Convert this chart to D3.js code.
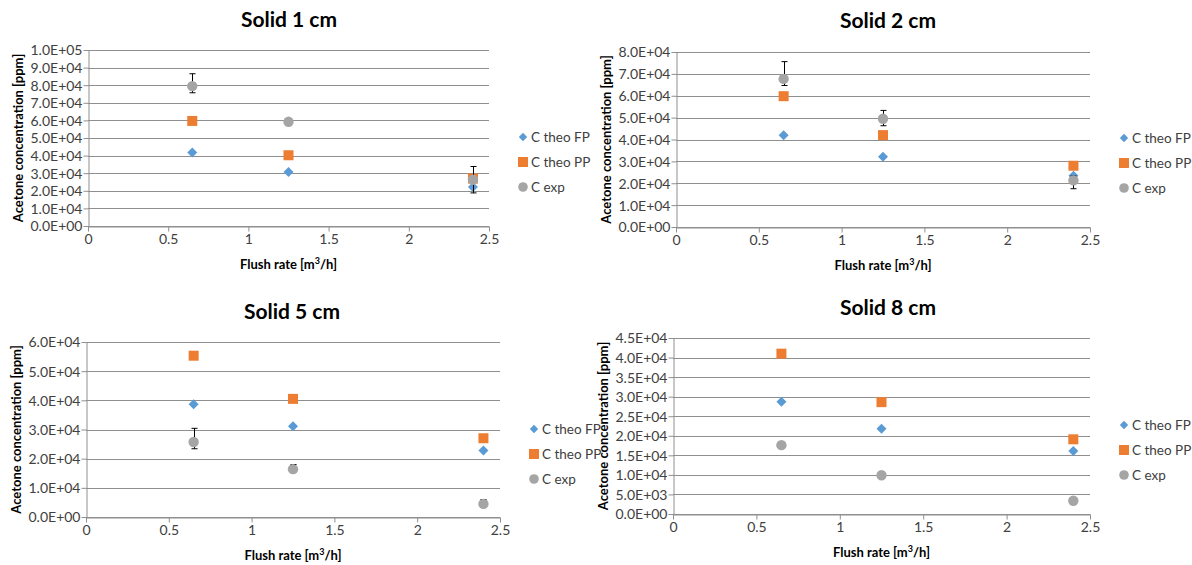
<!DOCTYPE html>
<html>
<head>
<meta charset="utf-8">
<script src="https://cdn.jsdelivr.net/npm/d3@7"></script>
<style>
  html, body { margin: 0; padding: 0; background: #ffffff; }
  svg { display: block; font-family: Lato, "Open Sans", "Noto Sans", sans-serif; }
</style>
</head>
<body>
<svg id="chart" width="1192" height="565"></svg>
<script>
// ---------------- DATA ----------------
const flushRates = [0.65, 1.25, 2.4];
const seriesNames = ["C theo FP", "C theo PP", "C exp"];
const xTickValues = [0, 0.5, 1, 1.5, 2, 2.5];
const panelTitles = ["Solid 1 cm", "Solid 2 cm", "Solid 5 cm", "Solid 8 cm"];
const yMaxes = [100000, 80000, 60000, 45000];
const ySteps = [10000, 10000, 10000, 5000];

const solid1_FP = [41800, 30700, 22200];
const solid1_PP = [59700, 40200, 27000];
const solid1_exp = [79500, 59200, 26300];
const solid1_errPlus = [7000, 0, 7500];
const solid1_errMinus = [3800, 0, 7500];

const solid2_FP = [42000, 32100, 23400];
const solid2_PP = [59800, 42000, 28000];
const solid2_exp = [67700, 49500, 21300];
const solid2_errPlus = [7900, 3800, 2000];
const solid2_errMinus = [3000, 3200, 3800];

const solid5_FP = [38700, 31100, 22800];
const solid5_PP = [55300, 40500, 27000];
const solid5_exp = [25700, 16400, 4500];
const solid5_errPlus = [4700, 1600, 1500];
const solid5_errMinus = [2300, 1000, 1000];

const solid8_FP = [28700, 21800, 16100];
const solid8_PP = [41000, 28600, 19100];
const solid8_exp = [17600, 9900, 3400];
const solid8_errPlus = [0, 0, 0];
const solid8_errMinus = [0, 0, 0];

// ---------------- LAYOUT ----------------
const layouts = [
  { left: 88,  right: 489,  top: 50,  bottom: 226, titleX: 289, titleY: 26.5, legX: 523,  legY: 137 },
  { left: 676, right: 1090, top: 52,  bottom: 227, titleX: 888, titleY: 27.5, legX: 1124, legY: 138 },
  { left: 86,  right: 500,  top: 342, bottom: 517, titleX: 292, titleY: 319,  legX: 534,  legY: 429 },
  { left: 673, right: 1090, top: 338, bottom: 514, titleX: 888, titleY: 315,  legX: 1124, legY: 425 }
];

const panelData = [
  { fp: solid1_FP, pp: solid1_PP, exp: solid1_exp, ep: solid1_errPlus, em: solid1_errMinus },
  { fp: solid2_FP, pp: solid2_PP, exp: solid2_exp, ep: solid2_errPlus, em: solid2_errMinus },
  { fp: solid5_FP, pp: solid5_PP, exp: solid5_exp, ep: solid5_errPlus, em: solid5_errMinus },
  { fp: solid8_FP, pp: solid8_PP, exp: solid8_exp, ep: solid8_errPlus, em: solid8_errMinus }
];

const COL_FP = "#5B9BD5", COL_PP = "#ED7D31", COL_EXP = "#A5A5A5";
const GRID = "#8f8f8f", TXT = "#404040";

function fmtE(v) {
  if (v === 0) return "0.0E+00";
  const s = v.toExponential(1).split("e");
  const exp = parseInt(s[1], 10);
  const sign = exp < 0 ? "-" : "+";
  return s[0] + "E" + sign + String(Math.abs(exp)).padStart(2, "0");
}

const svg = d3.select("#chart");

function diamondPath(r) {
  return `M0,${-r}L${r},0L0,${r}L${-r},0Z`;
}

layouts.forEach((L, i) => {
  const D = panelData[i];
  const g = svg.append("g");
  const x = d3.scaleLinear().domain([0, 2.5]).range([L.left, L.right]);
  const y = d3.scaleLinear().domain([0, yMaxes[i]]).range([L.bottom, L.top]);
  const yTicks = d3.range(0, yMaxes[i] + ySteps[i] / 2, ySteps[i]);

  // gridlines
  g.append("g").selectAll("line").data(yTicks).join("line")
    .attr("x1", L.left).attr("x2", L.right)
    .attr("y1", d => Math.round(y(d)) + 0.5).attr("y2", d => Math.round(y(d)) + 0.5)
    .attr("stroke", GRID).attr("stroke-width", 1);

  // y axis
  const yAxis = d3.axisLeft(y).tickValues(yTicks).tickFormat(fmtE).tickSize(5).tickSizeOuter(0);
  const ya = g.append("g").attr("transform", `translate(${Math.round(L.left) + 0.5},0)`).call(yAxis);
  ya.select(".domain").attr("stroke", GRID);
  ya.selectAll(".tick line").attr("stroke", GRID);
  ya.selectAll(".tick text").attr("fill", TXT).attr("font-size", 14)
    .attr("font-family", "Lato, 'Open Sans', sans-serif").attr("x", -6).attr("dy", "0.35em");

  // x axis
  const xAxis = d3.axisBottom(x).tickValues(xTickValues).tickFormat(d3.format("")).tickSize(5).tickSizeOuter(0);
  const xa = g.append("g").attr("transform", `translate(0,${Math.round(L.bottom) + 0.5})`).call(xAxis);
  xa.select(".domain").attr("stroke", GRID);
  xa.selectAll(".tick line").attr("stroke", GRID);
  xa.selectAll(".tick text").attr("fill", TXT).attr("font-size", 14)
    .attr("font-family", "Lato, 'Open Sans', sans-serif").attr("y", 17).attr("dy", 0);

  // title
  g.append("text").attr("x", L.titleX).attr("y", L.titleY).attr("text-anchor", "middle")
    .attr("font-size", 21).attr("font-weight", "bold").attr("fill", "#000").text(panelTitles[i]);

  // axis titles
  const xt = g.append("text").attr("x", (L.left + L.right) / 2).attr("y", L.bottom + 42.5)
    .attr("text-anchor", "middle").attr("font-size", 13).attr("font-weight", "bold").attr("fill", "#000");
  xt.append("tspan").text("Flush rate [m");
  xt.append("tspan").attr("font-size", 9).attr("dy", -5).text("3");
  xt.append("tspan").attr("dy", 5).text("/h]");
  g.append("text")
    .attr("transform", `translate(${L.left - 65},${(L.top + L.bottom) / 2}) rotate(-90)`)
    .attr("text-anchor", "middle").attr("font-size", 13).attr("font-weight", "bold").attr("fill", "#000")
    .text("Acetone concentration [ppm]");

  // series FP (diamonds)
  g.append("g").selectAll("path").data(flushRates.map((fr, k) => [fr, D.fp[k]])).join("path")
    .attr("d", diamondPath(5))
    .attr("transform", d => `translate(${x(d[0])},${y(d[1])})`)
    .attr("fill", COL_FP);

  // series PP (squares)
  g.append("g").selectAll("rect").data(flushRates.map((fr, k) => [fr, D.pp[k]])).join("rect")
    .attr("x", d => x(d[0]) - 5).attr("y", d => y(d[1]) - 5)
    .attr("width", 10).attr("height", 10).attr("fill", COL_PP);

  // error bars for exp
  const errData = flushRates.map((fr, k) => ({ fr, v: D.exp[k], p: D.ep[k], m: D.em[k] }))
    .filter(d => d.p > 0 || d.m > 0);
  const eg = g.append("g").attr("stroke", "#000").attr("stroke-width", 1);
  errData.forEach(d => {
    const cx = Math.round(x(d.fr)) + 0.5;
    const yt = y(d.v + d.p), yb = y(d.v - d.m);
    eg.append("line").attr("x1", cx).attr("x2", cx).attr("y1", yt).attr("y2", yb);
    if (d.p > 0) eg.append("line").attr("x1", cx - 3).attr("x2", cx + 3).attr("y1", yt).attr("y2", yt);
    if (d.m > 0) eg.append("line").attr("x1", cx - 3).attr("x2", cx + 3).attr("y1", yb).attr("y2", yb);
  });

  // series exp (circles)
  g.append("g").selectAll("circle").data(flushRates.map((fr, k) => [fr, D.exp[k]])).join("circle")
    .attr("cx", d => x(d[0])).attr("cy", d => y(d[1])).attr("r", 5.2).attr("fill", COL_EXP);

  // legend
  const lg = g.append("g");
  seriesNames.forEach((name, k) => {
    const ly = L.legY + k * 25;
    if (k === 0) lg.append("path").attr("d", diamondPath(4.2)).attr("transform", `translate(${L.legX},${ly})`).attr("fill", COL_FP);
    if (k === 1) lg.append("rect").attr("x", L.legX - 5).attr("y", ly - 5).attr("width", 10).attr("height", 10).attr("fill", COL_PP);
    if (k === 2) lg.append("circle").attr("cx", L.legX).attr("cy", ly).attr("r", 4.8).attr("fill", COL_EXP);
    lg.append("text").attr("x", L.legX + 8).attr("y", ly).attr("dy", "0.35em")
      .attr("font-size", 13.5).attr("fill", TXT).text(name);
  });
});
</script>
</body>
</html>
